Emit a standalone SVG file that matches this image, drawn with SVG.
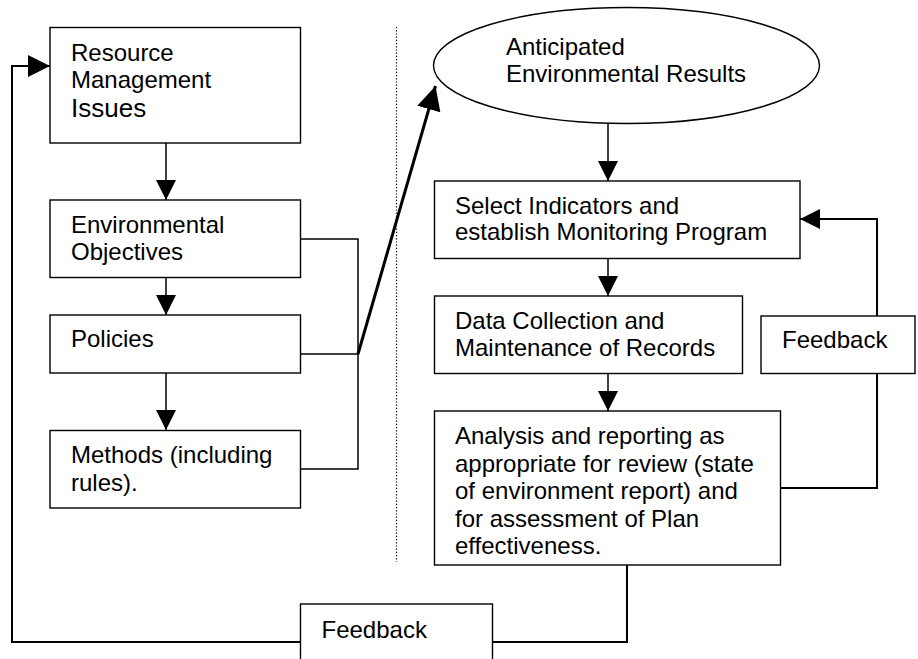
<svg xmlns="http://www.w3.org/2000/svg" width="918" height="659" viewBox="0 0 918 659">
<defs>
<style>
.box{fill:#fff;stroke:#000;stroke-width:1.4}
.t{font-family:"Liberation Sans",Arial,sans-serif;font-size:24px;fill:#000}
.big{font-size:26px}
.c{fill:none;stroke:#000;stroke-width:1.5}
.c2{fill:none;stroke:#000;stroke-width:2}
.dot{fill:none;stroke:#000;stroke-width:1.2;stroke-dasharray:1.2 2}
</style>
<marker id="ah" viewBox="0 0 20 20" refX="20" refY="10" markerWidth="20" markerHeight="20" markerUnits="userSpaceOnUse" orient="auto">
<path d="M0,0 L20,10 L0,20 z" fill="#000"/>
</marker>
<marker id="ahL" viewBox="0 0 22 22" refX="22" refY="11" markerWidth="22" markerHeight="22" markerUnits="userSpaceOnUse" orient="auto">
<path d="M0,0 L22,11 L0,22 z" fill="#000"/>
</marker>
<marker id="ahB" viewBox="0 0 24 24" refX="24" refY="12" markerWidth="24" markerHeight="24" markerUnits="userSpaceOnUse" orient="auto">
<path d="M0,0 L24,12 L0,24 z" fill="#000"/>
</marker>
</defs>
<rect width="918" height="659" fill="#fff"/>

<line class="dot" x1="396.5" y1="27" x2="396.5" y2="562"/>

<g id="connectors">
<path class="c" d="M166,143 V200" marker-end="url(#ah)"/>
<path class="c" d="M166,277 V315" marker-end="url(#ah)"/>
<path class="c" d="M166,373 V430" marker-end="url(#ah)"/>
<path class="c" d="M300,239 H358 V469 H300"/>
<path class="c" d="M300,354 H358"/>
<path fill="none" stroke="#000" stroke-width="3" d="M358,354 L435.5,86" marker-end="url(#ahB)"/>
<path class="c" d="M608,123 V181" marker-end="url(#ah)"/>
<path class="c" d="M608,258 V296" marker-end="url(#ah)"/>
<path class="c" d="M608,373 V411" marker-end="url(#ah)"/>
<path class="c2" d="M781,488 H877 V373"/>
<path class="c2" d="M877,316 V219 H800" marker-end="url(#ah)"/>
<path class="c2" d="M627,565 V642 H492"/>
<path class="c2" d="M300,642 H12 V66 H50" marker-end="url(#ahL)"/>
</g>

<g id="n-resource">
<rect class="box" x="50" y="27.5" width="250.5" height="115.5"/>
<text class="t" x="71" y="61">Resource</text>
<text class="t" x="71" y="88">Management</text>
<text class="t big" x="71" y="117">Issues</text>
</g>

<g id="n-objectives">
<rect class="box" x="50" y="200" width="250.5" height="77.5"/>
<text class="t" x="71" y="233">Environmental</text>
<text class="t" x="71" y="260">Objectives</text>
</g>

<g id="n-policies">
<rect class="box" x="50" y="315" width="250.5" height="58"/>
<text class="t" x="71" y="347">Policies</text>
</g>

<g id="n-methods">
<rect class="box" x="50" y="430.5" width="250.5" height="77.5"/>
<text class="t" x="71" y="463">Methods (including</text>
<text class="t" x="71" y="490.5">rules).</text>
</g>

<g id="n-results">
<ellipse class="box" cx="626.5" cy="65.5" rx="193" ry="58"/>
<text class="t" x="506" y="55">Anticipated</text>
<text class="t" x="506" y="81.5">Environmental Results</text>
</g>

<g id="n-select">
<rect class="box" x="434.5" y="181" width="365.5" height="77.5"/>
<text class="t" x="455" y="213.5">Select Indicators and</text>
<text class="t" x="455" y="240">establish Monitoring Program</text>
</g>

<g id="n-data">
<rect class="box" x="434.5" y="296" width="308" height="77.5"/>
<text class="t" x="455" y="328.5">Data Collection and</text>
<text class="t" x="455" y="356">Maintenance of Records</text>
</g>

<g id="n-analysis">
<rect class="box" x="434.5" y="411" width="346" height="154"/>
<text class="t" x="455" y="444">Analysis and reporting as</text>
<text class="t" x="455" y="471.5">appropriate for review (state</text>
<text class="t" x="455" y="499">of environment report) and</text>
<text class="t" x="455" y="526.5">for assessment of Plan</text>
<text class="t" x="455" y="553.5">effectiveness.</text>
</g>

<g id="n-feedback-right">
<rect class="box" x="761" y="316" width="154" height="57.5"/>
<text class="t" x="782" y="347.5">Feedback</text>
</g>

<g id="n-feedback-bottom">
<rect class="box" x="300.5" y="604" width="192" height="70"/>
<text class="t" x="321.5" y="638">Feedback</text>
</g>
</svg>
